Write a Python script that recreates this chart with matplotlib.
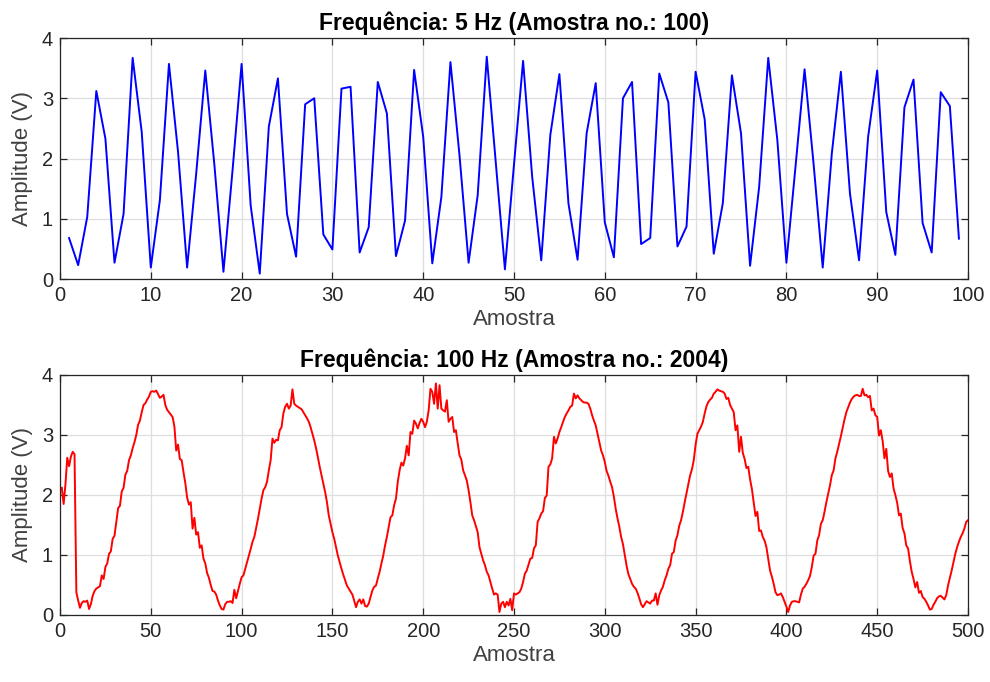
import matplotlib
matplotlib.use("Agg")
import matplotlib.pyplot as plt
import numpy as np

plt.rcParams['font.family'] = ['Liberation Sans', 'DejaVu Sans']

# ---------------- data ----------------
title_top = "Frequência: 5 Hz (Amostra no.: 100)"
title_bottom = "Frequência: 100 Hz (Amostra no.: 2004)"
xlabel_text = "Amostra"
ylabel_text = "Amplitude (V)"

samples_5hz = list(range(1, 100))
amp_5hz = [
    0.68, 0.23, 1.03, 3.12, 2.33, 0.27, 1.08, 3.67, 2.44, 0.19,
    1.31, 3.57, 2.11, 0.19, 1.75, 3.46, 1.90, 0.12, 1.80, 3.57,
    1.22, 0.09, 2.53, 3.33, 1.08, 0.37, 2.90, 3.00, 0.74, 0.49,
    3.16, 3.19, 0.44, 0.86, 3.27, 2.75, 0.38, 0.97, 3.47, 2.36,
    0.26, 1.36, 3.60, 2.05, 0.27, 1.39, 3.69, 1.92, 0.16, 1.90,
    3.62, 1.70, 0.31, 2.39, 3.40, 1.25, 0.32, 2.42, 3.25, 0.94,
    0.36, 3.00, 3.27, 0.58, 0.68, 3.41, 2.93, 0.54, 0.87, 3.44,
    2.65, 0.42, 1.26, 3.38, 2.42, 0.22, 1.53, 3.67, 2.31, 0.27,
    1.86, 3.48, 1.90, 0.19, 2.08, 3.44, 1.42, 0.31, 2.36, 3.46,
    1.11, 0.40, 2.85, 3.31, 0.93, 0.44, 3.10, 2.87, 0.67,
]

samples_100hz = list(range(1, 501))
amp_100hz = [
    # 1-100
    2.12, 1.85, 2.18, 2.62, 2.48, 2.64, 2.72, 2.68, 0.38, 0.24,
    0.12, 0.20, 0.23, 0.22, 0.24, 0.10, 0.18, 0.32, 0.40, 0.44,
    0.46, 0.48, 0.66, 0.60, 0.80, 0.86, 1.02, 1.06, 1.27, 1.32,
    1.55, 1.78, 1.82, 2.06, 2.12, 2.34, 2.40, 2.58, 2.66, 2.78,
    2.88, 3.00, 3.17, 3.24, 3.38, 3.50, 3.53, 3.59, 3.64, 3.72,
    3.73, 3.72, 3.74, 3.68, 3.62, 3.64, 3.67, 3.50, 3.42, 3.38,
    3.34, 3.30, 3.14, 2.74, 2.84, 2.60, 2.58, 2.38, 2.20, 1.96,
    1.84, 1.88, 1.44, 1.62, 1.34, 1.38, 1.12, 1.16, 0.94, 0.86,
    0.70, 0.62, 0.50, 0.40, 0.39, 0.34, 0.24, 0.16, 0.10, 0.09,
    0.18, 0.22, 0.22, 0.23, 0.20, 0.42, 0.28, 0.40, 0.52, 0.63,
    # 101-200
    0.66, 0.77, 0.88, 0.99, 1.10, 1.22, 1.30, 1.45, 1.60, 1.77,
    1.94, 2.08, 2.13, 2.22, 2.41, 2.58, 2.94, 2.87, 2.92, 2.91,
    3.08, 3.13, 3.36, 3.47, 3.52, 3.44, 3.49, 3.76, 3.52, 3.49,
    3.47, 3.45, 3.43, 3.38, 3.33, 3.28, 3.22, 3.13, 3.02, 2.91,
    2.78, 2.63, 2.47, 2.33, 2.19, 2.05, 1.88, 1.66, 1.52, 1.38,
    1.27, 1.13, 0.99, 0.88, 0.77, 0.67, 0.58, 0.49, 0.44, 0.39,
    0.34, 0.24, 0.13, 0.22, 0.26, 0.19, 0.26, 0.15, 0.14, 0.19,
    0.30, 0.41, 0.47, 0.49, 0.61, 0.72, 0.86, 0.99, 1.16, 1.30,
    1.47, 1.63, 1.66, 1.83, 1.94, 2.22, 2.41, 2.54, 2.49, 2.61,
    2.82, 2.66, 3.05, 3.02, 3.24, 3.19, 3.11, 3.20, 3.27, 3.22,
    # 201-300
    3.13, 3.22, 3.41, 3.77, 3.72, 3.52, 3.86, 3.44, 3.83, 3.44,
    3.41, 3.39, 3.58, 3.22, 3.27, 3.30, 3.05, 3.08, 2.86, 2.66,
    2.59, 2.41, 2.33, 2.24, 2.08, 1.88, 1.66, 1.58, 1.48, 1.38,
    1.13, 1.02, 0.91, 0.83, 0.72, 0.66, 0.55, 0.44, 0.34, 0.36,
    0.34, 0.05, 0.19, 0.22, 0.13, 0.22, 0.16, 0.27, 0.08, 0.36,
    0.34, 0.36, 0.38, 0.44, 0.55, 0.69, 0.74, 0.84, 0.94, 0.95,
    1.11, 1.16, 1.55, 1.61, 1.69, 1.73, 1.95, 1.99, 2.47, 2.51,
    2.61, 2.97, 2.86, 2.94, 3.05, 3.13, 3.22, 3.30, 3.36, 3.41,
    3.47, 3.49, 3.69, 3.61, 3.66, 3.61, 3.58, 3.55, 3.54, 3.54,
    3.52, 3.44, 3.33, 3.24, 3.16, 3.02, 2.88, 2.74, 2.66, 2.55,
    # 301-400
    2.40, 2.32, 2.22, 2.13, 1.97, 1.77, 1.61, 1.47, 1.30, 1.18,
    1.00, 0.82, 0.68, 0.60, 0.52, 0.47, 0.44, 0.37, 0.28, 0.18,
    0.13, 0.18, 0.23, 0.21, 0.19, 0.24, 0.24, 0.36, 0.17, 0.33,
    0.41, 0.47, 0.58, 0.66, 0.77, 0.83, 1.02, 1.05, 1.24, 1.33,
    1.49, 1.58, 1.72, 1.88, 2.03, 2.18, 2.33, 2.43, 2.58, 2.84,
    3.02, 3.08, 3.14, 3.22, 3.36, 3.48, 3.55, 3.59, 3.62, 3.69,
    3.72, 3.76, 3.74, 3.73, 3.72, 3.69, 3.60, 3.62, 3.50, 3.44,
    3.38, 3.08, 3.16, 2.72, 2.97, 2.70, 2.60, 2.45, 2.47, 2.26,
    2.10, 1.88, 1.65, 1.72, 1.40, 1.41, 1.30, 1.24, 1.13, 0.93,
    0.74, 0.64, 0.52, 0.38, 0.33, 0.34, 0.36, 0.30, 0.22, 0.14,
    # 401-500
    0.05, 0.16, 0.22, 0.23, 0.23, 0.22, 0.21, 0.34, 0.44, 0.47,
    0.52, 0.58, 0.65, 0.80, 0.99, 1.02, 1.24, 1.33, 1.52, 1.58,
    1.72, 1.88, 2.02, 2.16, 2.33, 2.41, 2.61, 2.72, 2.85, 2.98,
    3.12, 3.26, 3.38, 3.46, 3.54, 3.60, 3.64, 3.66, 3.67, 3.65,
    3.65, 3.77, 3.66, 3.67, 3.63, 3.65, 3.41, 3.44, 3.33, 3.30,
    2.99, 3.08, 2.90, 2.61, 2.77, 2.40, 2.30, 2.36, 2.11, 2.00,
    1.87, 1.66, 1.69, 1.45, 1.36, 1.16, 1.11, 0.90, 0.72, 0.60,
    0.46, 0.55, 0.37, 0.40, 0.30, 0.27, 0.22, 0.16, 0.09, 0.10,
    0.17, 0.22, 0.28, 0.31, 0.32, 0.29, 0.26, 0.33, 0.49, 0.62,
    0.74, 0.88, 1.02, 1.13, 1.22, 1.30, 1.36, 1.44, 1.55, 1.58,
]

xticks_top = list(range(0, 101, 10))
xticks_bottom = list(range(0, 501, 50))
yticks = [0, 1, 2, 3, 4]

# ---------------- figure ----------------
W, H = 990, 682
fig = plt.figure(figsize=(W / 100, H / 100), dpi=100)
fig.patch.set_facecolor('white')

axc = '#262626'

def px_axes(l, t, r, b):
    return fig.add_axes([l / W, 1 - b / H, (r - l) / W, (b - t) / H])

ax1 = px_axes(60, 38, 968, 279)
ax2 = px_axes(60, 375, 968, 615)

def style(ax, xticks, xlim, title):
    ax.set_xlim(*xlim)
    ax.set_ylim(0, 4)
    ax.set_xticks(xticks)
    ax.set_yticks(yticks)
    ax.grid(True, color='#dedede', linewidth=0.9)
    ax.set_axisbelow(True)
    ax.tick_params(direction='in', length=5, width=0.9, top=True, right=True,
                   colors=axc, labelsize=14.5, pad=5)
    for s in ax.spines.values():
        s.set_color(axc)
        s.set_linewidth(0.9)
    ax.set_xlabel(xlabel_text, fontsize=16, color='#404040', labelpad=3)
    ax.set_ylabel(ylabel_text, fontsize=16, color='#404040', labelpad=6)
    ax.set_title(title, fontsize=16.5, fontweight='bold', color='black', pad=6)

ax1.plot(samples_5hz, amp_5hz, color='#0000FF', linewidth=1.4)
style(ax1, xticks_top, (0, 100), title_top)

ax2.plot(samples_100hz, amp_100hz, color='#FF0000', linewidth=1.4)
style(ax2, xticks_bottom, (0, 500), title_bottom)

fig.savefig('out.png', dpi=100)
